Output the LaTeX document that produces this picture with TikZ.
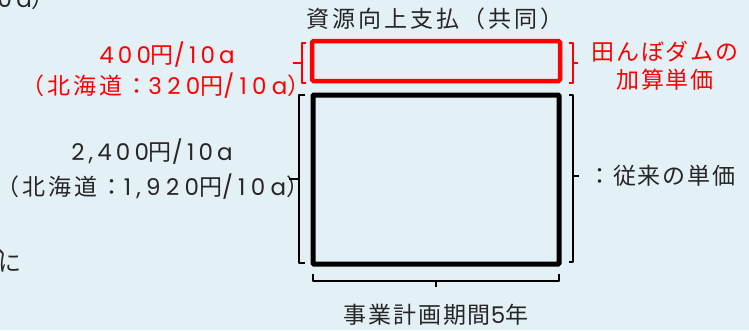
\documentclass[tikz,border=0pt]{standalone}
\usepackage{fontspec}
\setmainfont[LetterSpace=8]{Noto Sans CJK JP}
\newfontfamily\cjkwide[LetterSpace=13]{Noto Sans CJK JP}
\newfontfamily\latf[LetterSpace=18]{Poppins}
\newfontfamily\latwf[LetterSpace=23]{Poppins}
\newcommand{\lt}[1]{{\latf #1}}
\newcommand{\ltw}[1]{{\latwf #1}}
\definecolor{bgblue}{RGB}{227,241,246}
\definecolor{ared}{RGB}{255,0,0}
\tikzset{
  lbl/.style={inner sep=0pt, font=\fontsize{23}{26}\selectfont, text=black!85},
  wlbl/.style={lbl, font=\fontsize{23}{26}\selectfont\cjkwide},
  rlbl/.style={lbl, text=ared},
  rwlbl/.style={wlbl, text=ared},
  brk/.style={line width=1.3pt, line join=round},
  rbrk/.style={brk, draw=ared},
  bbrk/.style={brk, draw=black},
}
\begin{document}
\begin{tikzpicture}[x=1pt,y=-1pt]
\fill[bgblue] (0,0) rectangle (749,330);
\useasboundingbox (0,0) rectangle (749,330);
\begin{scope}
\clip (0,0) rectangle (749,330);
\node[lbl, anchor=base east] (frag1) at (55,7) {\lt{0a}）};
\node[lbl, anchor=base east] (frag0) at (20,253) {、};
\node[lbl, anchor=west] (frag2) at (-2,263) {に};
\end{scope}
% boxes
\node[draw=ared, line width=4.5pt, rounded corners=1.5pt, minimum width=248pt, minimum height=40pt, inner sep=0pt] (add) at (436,61) {};
\node[draw=black, line width=5pt, rounded corners=1pt, minimum width=246pt, minimum height=169pt, inner sep=0pt] (base) at (436,179.5) {};
% labels
\node[wlbl] (top) at (435,19) {資源向上支払（共同）};
\node[rlbl] (r1) at (167,55) {\lt{400}円\lt{/10a}};
\node[rwlbl] (r2) at (166,86) {（北海道：\ltw{320}円\ltw{/10a}）};
\node[rlbl] (r3) at (665,52) {田んぼダムの};
\node[rlbl] (r4) at (665,80) {加算単価};
\node[lbl] (b1) at (152,152) {\lt{2,400}円\lt{/10a}};
\node[wlbl] (b2) at (153,187) {（北海道：\ltw{1,920}円\ltw{/10a}）};
\node[lbl, anchor=west] (b3) at (588,176) {：従来の単価};
\node[lbl] (b4) at (436,315) {事業計画期間\lt{5}年};
% red brackets
\coordinate (rlt) at (293,63);
\coordinate (rrt) at (578,63);
\draw[rbrk] (306,43) -- (302,43) -- (302,83) -- (306,83);
\draw[rbrk] (302,63) -- (rlt);
\draw[rbrk] (569,43) -- (573,43) -- (573,83) -- (569,83);
\draw[rbrk] (573,63) -- (rrt);
% black brackets
\coordinate (blt) at (289,179);
\coordinate (brt) at (579,176);
\draw[bbrk] (305,95) -- (299,95) -- (299,263) -- (305,263);
\draw[bbrk] (299,179) -- (blt);
\draw[bbrk] (569,95) -- (573,95) -- (573,262) -- (569,262);
\draw[bbrk] (573,176) -- (brt);
\coordinate (bbt) at (436,287);
\draw[bbrk] (313,274) -- (313,281) -- (559,281) -- (559,274);
\draw[bbrk] (436,281) -- (bbt);
\end{tikzpicture}
\end{document}
